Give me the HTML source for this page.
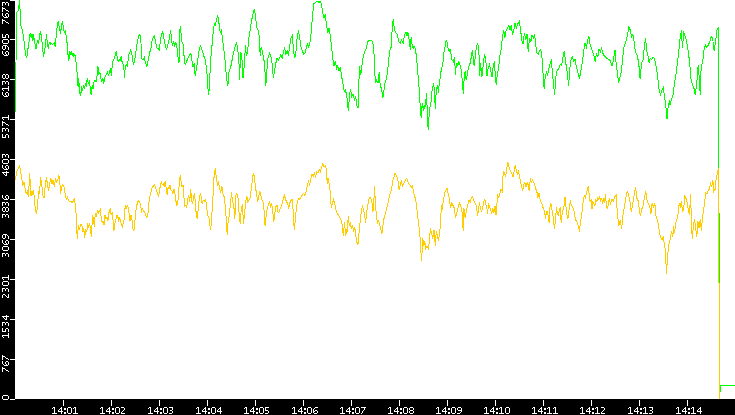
<!DOCTYPE html><html><head><meta charset="utf-8"><style>html,body{margin:0;padding:0;background:#fff;overflow:hidden}svg{display:block}</style></head><body>
<svg width="735" height="415" viewBox="0 0 735 415" shape-rendering="crispEdges">
<rect x="0" y="0" width="735" height="415" fill="#fff"/>
<polyline fill="none" stroke="#00ff00" stroke-width="1" points="15.5,112.0 16.5,13.0 16.5,13.1 17.3,11.5 18.1,11.1 18.9,6.6 19.4,0.0 20.2,11.5 20.6,24.6 21.4,27.9 22.2,29.5 23.0,34.4 23.8,39.3 24.7,47.5 25.5,54.1 26.3,57.4 27.1,55.7 27.9,49.2 28.8,44.3 29.6,36.1 30.4,32.8 31.2,37.7 32.0,34.4 32.9,41.0 33.7,34.4 34.5,42.6 35.3,44.3 36.1,49.2 37.0,42.6 37.8,41.0 38.6,42.6 39.4,37.7 40.2,31.1 41.0,34.4 41.9,41.0 42.7,49.2 43.5,57.4 44.3,52.5 45.1,47.5 46.0,39.3 46.5,34.4 47.6,45.9 48.4,47.5 49.2,42.6 50.1,44.3 50.9,42.6 52.5,44.3 54.2,42.6 55.3,46.7 56.3,34.4 57.4,24.6 58.3,21.3 59.1,26.2 59.9,31.1 60.7,32.8 61.5,24.6 62.4,21.3 63.2,26.2 64.0,31.1 64.8,32.8 65.6,31.1 66.5,39.3 67.3,44.3 68.1,55.7 68.9,60.7 69.7,50.8 70.6,54.1 71.4,52.5 72.2,55.7 72.9,52.8 73.9,56.6 74.8,53.7 75.8,60.5 76.7,66.2 77.3,77.8 78.1,87.4 78.7,77.8 79.6,93.2 80.6,96.1 81.6,87.4 82.5,89.4 83.5,86.5 84.5,88.4 85.4,83.6 86.4,85.5 87.3,77.8 88.3,83.6 89.3,81.7 90.2,87.4 91.2,95.1 92.2,85.5 93.1,89.4 94.1,81.7 95.0,79.7 96.0,81.7 97.0,75.9 97.9,66.2 98.9,73.9 99.9,72.0 100.8,77.8 101.8,81.7 102.8,77.8 103.7,83.6 104.7,77.8 105.6,75.9 106.6,73.9 107.6,72.0 108.5,75.9 109.5,72.0 110.5,68.2 111.4,75.9 112.4,62.4 113.4,60.5 114.3,58.5 115.3,54.7 116.2,51.8 117.2,56.6 118.2,61.4 119.1,59.5 120.1,60.5 121.1,56.6 122.0,61.4 123.0,64.3 123.9,68.2 124.5,77.8 125.3,66.2 126.3,64.3 127.2,66.2 127.8,62.4 128.8,54.7 130.6,50.3 131.9,54.2 133.4,65.1 134.5,60.7 135.6,54.2 136.7,45.6 137.8,40.1 138.8,35.8 139.9,34.3 141.0,43.4 141.7,58.6 143.2,59.7 144.3,57.5 145.4,62.9 146.9,66.2 148.6,58.6 149.7,52.1 150.8,49.9 151.9,41.2 152.9,38.0 154.5,35.8 155.5,41.2 156.6,47.7 158.4,48.8 159.5,49.9 160.5,39.0 161.6,34.7 162.7,31.5 163.8,38.0 164.9,43.4 166.6,49.9 168.1,43.4 169.2,39.0 170.7,30.4 171.4,39.0 172.5,45.6 173.6,41.2 174.6,46.6 175.7,42.3 176.8,46.6 177.9,56.4 179.0,62.9 179.6,32.5 180.5,26.0 181.6,41.2 182.7,43.4 183.5,45.6 184.4,62.9 185.5,64.0 186.6,61.8 187.7,58.6 188.7,56.4 190.9,53.1 192.0,60.7 193.1,67.2 194.2,62.9 195.2,75.9 196.3,69.4 197.4,62.9 198.5,54.2 199.6,47.7 200.7,45.6 201.8,49.9 202.8,52.1 203.9,56.4 205.0,58.6 206.1,65.1 207.2,75.9 208.0,88.5 208.8,94.9 209.6,80.9 210.6,60.7 211.8,48.0 213.1,32.8 214.4,22.7 215.1,25.3 216.4,20.2 217.7,15.1 218.9,22.7 220.2,32.8 221.5,30.3 222.7,40.4 224.0,50.6 225.3,63.2 226.5,78.4 227.8,86.0 229.1,70.8 230.3,68.3 231.6,63.2 232.8,55.6 234.1,50.6 235.4,45.5 236.6,43.0 237.9,50.6 239.2,65.8 239.7,79.7 240.4,53.1 241.7,54.4 243.0,78.4 244.2,65.8 245.5,45.5 246.3,55.6 247.5,53.1 248.8,37.9 250.1,30.3 251.3,22.7 252.6,15.1 254.4,8.8 255.6,17.7 256.9,27.8 258.2,30.3 259.4,37.9 260.2,55.6 261.2,46.8 262.7,53.1 264.5,63.2 265.8,86.0 266.5,75.9 267.8,58.2 269.6,53.1 270.8,55.6 272.1,63.2 273.4,78.4 274.5,70.9 275.8,63.3 277.1,58.2 278.3,60.8 279.6,58.2 280.9,54.4 282.1,58.2 283.4,51.9 284.7,48.1 285.9,54.4 287.2,50.6 288.5,55.7 289.7,45.6 291.0,38.0 292.3,35.4 293.5,50.6 294.8,58.2 296.1,50.6 297.3,35.4 298.6,31.6 299.8,38.0 301.1,48.1 302.4,50.6 303.6,54.4 304.9,53.2 306.2,48.1 307.4,44.3 308.7,46.8 310.0,41.8 311.2,32.9 312.5,15.2 313.8,3.8 315.5,2.5 317.6,1.3 318.8,2.5 320.1,1.3 321.4,3.8 322.6,12.7 323.9,17.7 325.2,15.2 326.4,24.1 327.7,32.9 329.0,27.8 330.2,35.4 331.5,45.6 332.8,58.2 334.0,65.8 335.3,60.8 336.6,68.4 337.8,65.8 339.1,70.9 340.4,67.1 341.4,74.8 342.8,83.1 344.2,91.4 345.5,90.0 346.9,97.0 348.3,110.8 349.7,94.2 350.5,88.6 351.6,97.0 353.0,94.2 354.4,99.7 355.8,97.0 356.6,105.3 358.0,108.0 358.8,85.9 359.4,66.5 360.8,74.8 362.2,63.7 363.5,55.4 364.9,51.2 366.3,48.5 367.7,41.6 369.1,40.2 371.0,40.2 372.7,41.6 373.8,48.5 374.6,69.3 375.5,83.1 376.6,80.3 378.0,83.1 379.3,72.0 380.2,85.9 381.6,88.6 382.9,98.3 383.8,91.4 384.9,83.1 386.3,78.9 387.6,72.0 388.5,60.9 389.9,49.9 391.2,47.1 392.1,30.5 393.2,19.4 394.6,30.5 396.0,33.2 397.3,34.6 398.7,41.6 400.4,42.9 401.5,40.2 403.2,42.9 404.3,36.0 405.9,31.9 407.0,36.0 407.9,31.9 408.2,35.9 408.9,38.1 409.6,43.2 410.4,49.7 411.1,37.4 411.8,43.2 412.5,45.3 413.2,48.9 414.0,46.0 414.7,46.8 415.4,50.4 416.1,54.0 416.9,62.0 417.6,67.8 418.1,76.3 419.0,87.1 419.9,101.6 420.8,114.2 421.2,117.9 421.8,107.0 422.7,103.4 423.2,110.6 424.1,105.2 424.8,108.8 425.7,101.6 426.6,93.5 427.2,110.6 427.7,125.1 428.3,129.6 428.8,119.7 429.3,112.4 430.3,105.2 431.2,101.6 431.7,92.5 432.6,87.1 433.5,84.4 434.4,88.9 435.3,108.8 435.9,96.2 436.6,88.9 437.5,85.3 438.4,92.5 439.3,83.5 440.2,78.1 441.1,70.8 442.0,67.2 442.9,63.6 443.4,57.6 444.1,51.1 445.2,46.0 446.2,40.3 447.0,41.7 447.7,45.3 448.4,50.4 449.1,48.9 449.9,51.8 450.6,50.4 451.3,56.2 452.0,59.8 452.8,60.5 453.5,62.7 454.2,57.6 454.9,60.5 455.2,74.5 456.1,67.2 457.0,63.6 457.9,65.4 458.8,61.8 459.7,63.6 460.6,67.2 461.5,70.8 462.4,83.5 463.3,93.5 464.2,78.1 465.2,70.8 466.1,79.9 467.0,76.3 467.9,70.8 468.8,67.2 469.7,63.6 470.1,63.4 470.8,60.5 471.6,53.3 472.3,50.4 473.0,56.2 473.7,63.4 474.5,66.3 475.1,58.2 476.3,48.0 477.6,43.0 478.9,50.6 479.6,75.9 480.6,63.2 481.9,77.2 483.2,65.8 484.4,54.4 485.7,58.2 487.0,75.9 488.2,68.3 489.5,64.5 490.8,70.8 492.0,77.2 493.3,65.8 494.6,60.7 495.3,78.4 496.3,84.7 497.3,73.4 498.6,68.3 499.9,55.6 501.1,49.3 502.4,37.9 503.7,30.3 504.9,37.9 506.2,30.3 507.5,27.8 508.7,25.3 510.0,30.3 511.3,25.3 512.5,35.4 513.8,30.3 515.1,22.7 516.3,27.8 517.6,24.0 519.4,21.5 520.6,30.3 521.9,40.4 523.2,44.2 524.4,32.8 525.7,40.4 527.0,34.1 528.2,51.8 529.5,37.9 530.8,41.7 532.0,35.4 533.3,37.9 534.6,34.1 535.8,45.5 537.1,53.1 538.4,54.4 539.5,50.6 540.8,49.3 542.1,58.2 543.3,78.4 544.1,88.5 545.1,78.4 546.4,72.1 547.6,75.9 548.9,68.3 550.2,63.2 551.4,60.7 552.7,75.9 554.0,88.5 554.7,94.9 555.5,80.9 556.5,72.1 557.8,69.6 559.0,68.3 560.3,64.5 561.6,65.8 562.8,58.2 564.3,50.6 565.4,60.7 566.6,68.3 567.4,73.4 568.6,86.0 569.9,68.3 571.2,58.2 572.4,56.9 573.7,60.7 575.0,59.4 576.2,65.8 577.5,70.8 579.5,78.4 581.3,68.3 582.6,60.7 583.8,50.6 585.1,43.0 586.4,46.8 587.6,40.4 588.9,36.6 590.2,45.5 591.4,48.0 592.7,51.8 594.0,55.6 595.2,62.0 596.5,53.1 597.8,56.9 599.0,49.3 600.3,51.8 601.6,48.0 602.8,53.1 604.1,55.6 605.4,56.9 606.9,58.5 609.8,59.9 612.1,65.7 613.5,59.9 615.0,49.8 616.1,62.8 617.6,74.4 618.5,83.0 619.9,77.3 621.3,71.5 622.8,57.0 624.2,45.5 625.7,42.6 627.1,36.8 628.9,26.7 630.6,31.0 631.5,36.8 632.9,33.9 634.3,42.6 635.2,51.2 637.2,55.6 638.7,62.8 640.1,78.7 641.6,62.8 643.0,59.9 644.5,45.5 645.6,38.2 646.8,51.2 647.9,55.6 649.1,62.8 650.2,58.5 651.7,59.9 653.1,57.0 654.6,58.5 656.0,65.7 657.5,74.4 658.9,88.8 660.4,94.6 661.8,90.3 663.2,87.4 664.7,97.5 666.1,109.0 667.0,119.2 668.2,106.2 669.9,100.4 669.9,105.4 671.4,99.6 672.8,96.7 674.2,85.1 675.7,76.5 677.1,64.9 678.6,53.4 680.0,38.9 681.5,30.2 682.3,47.6 683.8,33.1 685.2,36.0 686.7,41.8 688.1,50.5 689.6,62.0 691.0,79.4 692.5,85.1 693.9,88.0 695.3,95.3 696.8,82.3 698.2,64.9 699.1,76.5 700.3,95.3 701.1,67.8 702.6,62.0 704.0,50.5 705.5,44.7 706.9,47.6 708.4,44.7 709.8,41.8 711.2,36.0 712.7,38.9 714.1,50.5 715.6,41.8 717.0,30.2 718.2,27.9 718.5,28.0 719.5,389.0 719.5,398.0 720.5,385.5 736.0,385.5"/>
<polyline fill="none" stroke="#ffcc00" stroke-width="1" points="15.5,180.0 16.6,171.7 17.7,169.5 18.9,167.2 19.6,165.6 20.5,170.6 21.6,177.5 22.8,185.5 23.9,182.0 25.0,187.8 26.2,193.5 27.3,191.2 28.5,196.9 29.2,182.0 29.8,172.9 30.3,186.6 31.0,195.8 31.9,191.2 32.6,193.5 33.7,191.2 34.9,204.9 36.0,211.8 36.7,214.1 37.6,202.6 38.8,191.2 39.5,193.5 40.6,177.5 41.7,184.3 42.9,195.8 44.0,198.1 45.2,186.6 46.3,177.5 47.5,184.3 48.6,191.2 49.8,183.2 50.9,178.6 52.0,184.3 53.2,179.7 54.3,186.6 55.5,178.6 56.6,182.0 57.8,179.7 58.9,175.2 60.1,185.5 60.7,193.5 61.7,186.6 62.8,184.3 63.9,186.6 65.1,193.5 66.2,199.2 67.4,196.9 68.5,200.3 69.7,201.5 70.8,201.5 72.0,202.6 73.1,201.5 74.2,199.2 75.4,204.9 76.5,218.6 77.2,239.2 78.4,225.5 79.5,230.1 80.6,224.4 81.9,224.7 82.8,232.4 83.8,228.6 84.7,238.2 85.7,228.6 86.7,232.4 87.6,224.7 88.6,226.7 89.6,222.8 90.5,230.5 91.5,237.3 92.1,222.8 92.8,215.1 93.4,220.9 94.4,226.7 95.3,213.2 96.3,217.0 97.3,211.2 98.2,213.2 99.2,211.2 100.2,209.3 101.1,217.0 102.1,222.8 103.0,220.9 104.0,224.7 105.0,215.1 105.9,218.9 106.9,217.0 107.9,220.9 108.8,213.2 110.4,208.4 111.1,215.1 112.1,213.2 113.1,220.9 114.0,230.5 115.0,222.8 116.0,218.9 116.9,215.1 117.9,217.0 118.8,220.9 119.8,218.0 120.8,222.8 122.3,226.7 123.3,222.8 124.2,218.9 125.2,205.5 126.2,209.3 127.1,205.5 128.1,207.4 129.1,213.2 130.0,220.9 131.0,215.1 131.9,218.9 132.9,228.6 133.9,230.5 134.8,222.8 135.8,211.2 136.8,205.5 137.7,201.6 138.7,200.6 139.7,201.6 140.6,205.5 141.6,211.2 142.5,209.3 143.5,211.2 144.5,212.2 145.4,214.1 146.4,217.0 146.9,217.8 147.9,213.9 148.9,202.4 149.8,196.6 150.8,192.8 151.7,188.9 152.7,187.0 153.7,186.0 154.6,185.0 155.6,187.9 156.6,190.8 157.5,193.7 158.5,196.6 159.5,190.8 160.4,185.0 161.4,182.2 162.3,185.0 163.3,184.1 164.3,186.0 165.2,181.2 166.2,188.9 167.2,194.7 168.1,187.0 169.1,188.9 170.0,185.0 171.0,189.9 172.0,190.8 172.9,193.7 173.9,188.9 174.9,192.8 175.8,200.5 176.8,205.3 177.8,202.4 178.7,190.8 179.7,179.3 180.3,175.4 181.0,181.2 182.0,187.0 183.0,185.0 183.9,196.6 184.9,206.2 185.8,205.3 186.8,207.2 187.8,198.5 188.7,194.7 189.7,202.4 190.7,188.9 191.6,200.5 192.6,204.3 193.6,196.6 194.5,192.8 195.5,204.3 196.4,216.8 197.4,217.8 198.4,206.2 199.3,198.5 200.3,193.7 201.3,196.6 202.2,204.3 203.2,200.5 204.2,201.4 205.1,199.5 206.1,202.4 207.0,210.1 208.0,215.9 209.0,217.8 209.9,225.5 210.5,230.3 211.5,221.7 212.4,204.3 213.4,190.8 214.2,173.9 215.3,168.4 216.3,178.2 217.4,184.7 218.5,182.5 219.6,188.0 220.7,193.4 221.8,185.8 222.8,193.4 223.9,195.6 225.0,204.2 226.1,217.2 227.2,234.6 228.3,219.4 229.4,215.1 230.4,204.2 231.5,192.3 232.6,202.1 233.7,204.2 234.8,219.4 235.9,195.6 236.9,193.4 238.0,197.7 239.1,212.9 240.2,223.8 241.3,208.6 242.4,204.2 243.5,223.8 244.5,215.1 245.6,202.1 246.7,195.6 247.8,202.1 248.9,199.9 250.0,197.7 251.0,191.2 252.1,182.5 253.2,173.9 254.3,176.0 255.4,186.9 256.5,193.4 257.6,202.1 258.6,197.7 259.7,191.2 260.8,195.6 261.9,199.9 263.0,202.1 264.1,210.7 265.1,225.9 266.2,215.1 267.3,208.6 268.4,204.2 269.5,202.1 270.6,206.4 271.7,204.2 272.7,210.7 273.8,221.6 274.9,212.9 276.0,206.4 277.1,205.3 278.2,212.9 279.2,211.8 280.3,207.5 281.4,206.6 282.6,201.8 284.3,194.6 285.5,199.4 286.7,201.8 287.9,204.2 288.6,209.0 289.8,203.0 291.0,200.6 292.3,199.4 293.5,215.1 294.2,229.5 295.4,219.9 296.3,207.8 297.6,200.6 298.8,198.2 300.0,199.4 301.2,197.0 302.4,194.6 303.6,193.4 304.8,195.8 306.0,192.2 307.2,186.1 308.4,181.3 309.6,184.9 310.8,178.9 312.0,174.1 313.2,176.5 314.4,172.9 315.6,176.5 316.8,171.7 318.0,172.9 319.2,169.3 320.4,171.7 321.7,166.9 322.9,163.3 324.1,166.9 325.3,165.7 326.5,169.3 327.2,183.7 327.9,177.7 329.1,183.7 330.1,191.0 331.3,207.8 332.5,203.0 333.7,199.4 334.9,204.2 336.1,210.2 337.3,213.9 338.5,215.1 339.7,217.5 340.9,219.9 342.1,224.7 343.3,235.5 344.5,222.3 345.7,235.5 347.0,229.5 347.2,231.6 348.3,216.4 349.3,225.1 350.4,222.9 351.5,229.4 352.6,225.1 353.7,231.6 354.8,227.2 355.8,235.9 356.9,242.4 358.0,244.6 359.1,231.6 360.2,220.7 361.3,212.1 362.4,205.6 363.4,209.9 364.5,214.2 365.6,222.9 366.7,212.1 367.8,205.6 368.9,199.0 369.9,196.9 371.0,199.0 372.1,203.4 372.8,212.1 373.6,207.7 374.5,186.0 375.4,203.4 376.5,216.4 377.5,222.9 378.6,220.7 379.7,225.1 380.8,229.4 381.9,233.8 383.0,225.1 384.0,218.6 385.1,214.2 386.2,209.9 387.3,205.6 388.4,201.2 389.5,194.7 390.6,192.5 391.6,188.2 392.7,181.7 393.8,177.4 394.9,173.0 396.0,175.2 397.1,177.4 398.1,181.7 399.2,190.4 400.3,183.9 401.4,181.7 402.5,186.0 403.6,183.9 404.7,181.7 405.7,179.5 406.8,178.4 407.9,181.7 409.0,183.9 410.1,184.9 411.2,187.1 412.2,186.0 413.3,190.4 413.8,192.8 415.1,197.9 416.3,203.0 417.6,215.6 418.9,225.8 420.1,238.4 420.9,251.1 421.6,261.2 422.7,238.4 423.9,246.0 424.7,240.9 425.7,248.5 427.0,246.0 428.2,248.5 429.5,240.9 430.3,228.3 431.5,233.4 432.8,238.4 434.1,229.6 435.3,246.0 436.3,230.8 437.3,235.9 438.4,240.9 439.6,233.4 440.4,225.8 441.4,205.5 442.4,208.0 443.4,200.4 444.7,192.8 445.9,190.3 447.0,187.8 448.0,192.8 449.2,197.9 450.5,208.0 451.8,203.0 453.0,205.5 454.3,208.0 455.6,218.2 456.8,213.1 458.1,208.0 459.4,203.0 460.6,205.5 461.9,210.6 463.2,230.8 463.9,208.0 465.2,218.2 466.5,210.6 467.7,205.5 469.0,200.4 470.3,201.7 471.5,197.9 472.5,196.6 473.8,200.4 475.1,203.0 476.3,205.5 477.6,215.6 478.9,208.0 479.3,202.1 480.4,208.6 481.5,210.7 482.6,208.6 483.7,202.1 484.8,198.8 485.8,204.2 486.9,208.6 487.6,214.0 488.4,204.2 489.5,206.4 490.6,209.7 491.7,212.9 492.8,208.6 493.9,212.9 495.0,206.4 496.0,215.1 496.7,206.4 497.8,195.6 498.9,197.7 499.9,193.4 501.0,189.0 502.1,191.2 502.8,178.2 503.6,170.6 504.7,173.9 505.8,176.0 506.9,167.4 507.8,161.9 508.6,165.2 509.7,169.5 510.8,171.7 511.9,173.9 513.0,177.1 514.0,171.7 515.1,165.2 516.2,169.5 517.3,173.9 518.4,171.7 519.5,176.0 520.6,182.5 521.6,186.9 522.7,190.1 523.8,184.7 524.9,182.5 526.0,186.9 527.1,182.5 528.1,184.7 529.2,191.2 530.3,178.2 531.4,182.5 532.5,180.4 533.6,182.5 534.7,184.7 535.7,189.0 536.8,191.2 537.9,197.7 539.0,193.4 540.1,199.9 541.2,202.1 542.2,204.2 543.3,208.6 543.9,209.3 544.8,213.2 545.4,218.9 546.2,213.2 547.1,211.2 548.1,215.1 549.1,222.8 550.0,207.4 551.0,203.5 551.9,209.3 552.9,215.1 553.9,224.7 554.5,228.6 555.4,220.9 556.4,207.4 557.3,213.2 558.3,215.1 559.3,211.2 560.2,207.4 561.2,222.8 562.2,213.2 563.1,209.3 564.1,205.5 565.0,196.8 566.0,207.4 567.0,215.1 567.9,218.9 568.9,211.2 569.9,203.5 570.4,201.6 571.4,205.5 572.8,207.4 573.7,209.3 574.7,215.1 575.6,220.9 576.6,220.9 577.6,222.8 578.5,226.7 579.5,231.5 580.5,220.9 581.4,217.0 582.4,209.3 583.4,199.7 584.3,195.8 585.3,197.8 586.2,193.9 587.2,190.0 588.2,186.2 589.1,193.9 590.1,201.6 591.1,199.7 592.0,209.3 593.0,201.6 593.9,203.5 594.9,205.5 595.9,199.7 596.8,201.6 597.8,197.8 598.8,199.7 599.7,195.8 600.7,201.6 601.7,197.8 602.6,203.5 603.6,199.7 604.5,201.6 605.5,193.9 606.5,207.4 607.4,208.4 608.4,204.5 609.2,198.2 610.5,203.8 611.9,199.6 613.3,201.0 614.7,196.9 616.1,195.5 617.5,214.9 618.9,225.9 620.2,220.4 621.6,228.7 623.0,214.9 624.4,206.6 625.8,198.2 627.2,191.3 628.5,194.1 629.9,201.0 631.3,212.1 632.7,203.8 634.1,195.5 635.5,187.2 636.9,198.2 638.2,201.0 639.6,212.1 640.5,216.2 641.6,209.3 643.0,206.6 644.3,198.2 645.7,191.3 647.1,201.0 648.5,203.8 649.9,207.9 651.0,213.5 652.1,203.8 653.5,206.6 654.9,203.8 656.2,217.6 657.6,220.4 659.0,228.7 660.4,237.0 661.8,239.8 663.2,237.0 664.6,245.3 665.4,250.9 666.5,274.4 667.3,259.2 668.7,245.3 670.1,239.8 671.5,231.5 672.9,237.0 673.4,225.9 674.6,232.8 675.7,223.6 676.9,219.1 678.0,214.5 679.2,203.1 680.3,207.6 681.4,200.8 682.6,212.2 683.7,207.6 684.9,196.2 686.0,198.5 687.2,203.1 688.3,209.9 689.5,214.5 690.6,193.9 691.7,230.5 692.4,238.5 693.3,225.9 694.5,219.1 695.6,228.2 696.8,237.4 697.9,221.4 699.1,228.2 700.2,219.1 701.4,230.5 702.5,216.8 703.6,209.9 704.8,200.8 705.9,192.8 707.1,193.9 708.2,190.5 709.4,189.3 710.5,182.5 711.6,187.0 712.8,180.2 713.9,191.6 715.1,189.3 716.2,177.9 717.4,173.3 718.1,169.9 718.5,168.0 719.5,396.0 719.5,400.0"/>
<rect x="0" y="0" width="15" height="415" fill="#000"/>
<rect x="0" y="399" width="735" height="16" fill="#000"/>
<path fill="#fff" d="M10 0h5v1h-5zM2 2h3v1h-3zM6 2h2v1h-2zM2 3h1v1h-1zM5 3h1v1h-1zM8 3h1v1h-1zM2 4h1v1h-1zM5 4h1v1h-1zM8 4h1v1h-1zM2 5h1v1h-1zM8 5h1v1h-1zM2 7h1v1h-1zM2 8h3v1h-3zM2 9h1v1h-1zM5 9h1v1h-1zM2 10h1v1h-1zM6 10h2v1h-2zM2 11h1v1h-1zM8 11h1v1h-1zM2 13h1v1h-1zM6 13h2v1h-2zM2 14h1v1h-1zM5 14h1v1h-1zM8 14h1v1h-1zM2 15h1v1h-1zM5 15h1v1h-1zM8 15h1v1h-1zM3 16h1v1h-1zM6 16h1v1h-1zM8 16h1v1h-1zM4 17h4v1h-4zM2 19h1v1h-1zM2 20h3v1h-3zM2 21h1v1h-1zM5 21h1v1h-1zM2 22h1v1h-1zM6 22h2v1h-2zM2 23h1v1h-1zM8 23h1v1h-1zM2 34h1v1h-1zM6 34h2v1h-2zM2 35h1v1h-1zM5 35h1v1h-1zM8 35h1v1h-1zM2 36h1v1h-1zM5 36h1v1h-1zM8 36h1v1h-1zM2 37h4v1h-4zM8 37h1v1h-1zM3 39h5v1h-5zM10 39h5v1h-5zM2 40h1v1h-1zM8 40h1v1h-1zM2 41h1v1h-1zM8 41h1v1h-1zM2 42h1v1h-1zM8 42h1v1h-1zM3 43h5v1h-5zM3 45h4v1h-4zM2 46h1v1h-1zM5 46h1v1h-1zM7 46h1v1h-1zM2 47h1v1h-1zM5 47h1v1h-1zM8 47h1v1h-1zM2 48h1v1h-1zM5 48h1v1h-1zM8 48h1v1h-1zM3 49h2v1h-2zM8 49h1v1h-1zM2 51h1v1h-1zM6 51h2v1h-2zM2 52h1v1h-1zM5 52h1v1h-1zM8 52h1v1h-1zM2 53h1v1h-1zM5 53h1v1h-1zM8 53h1v1h-1zM3 54h1v1h-1zM6 54h1v1h-1zM8 54h1v1h-1zM4 55h4v1h-4zM3 74h2v1h-2zM6 74h2v1h-2zM2 75h1v1h-1zM5 75h1v1h-1zM8 75h1v1h-1zM2 76h1v1h-1zM5 76h1v1h-1zM8 76h1v1h-1zM2 77h1v1h-1zM5 77h1v1h-1zM8 77h1v1h-1zM3 78h2v1h-2zM6 78h2v1h-2zM10 79h5v1h-5zM2 81h3v1h-3zM6 81h2v1h-2zM2 82h1v1h-1zM5 82h1v1h-1zM8 82h1v1h-1zM2 83h1v1h-1zM5 83h1v1h-1zM8 83h1v1h-1zM2 84h1v1h-1zM8 84h1v1h-1zM8 86h1v1h-1zM8 87h1v1h-1zM2 88h7v1h-7zM2 89h1v1h-1zM8 89h1v1h-1zM3 90h1v1h-1zM8 90h1v1h-1zM2 92h1v1h-1zM6 92h2v1h-2zM2 93h1v1h-1zM5 93h1v1h-1zM8 93h1v1h-1zM2 94h1v1h-1zM5 94h1v1h-1zM8 94h1v1h-1zM3 95h1v1h-1zM6 95h1v1h-1zM8 95h1v1h-1zM4 96h4v1h-4zM8 115h1v1h-1zM8 116h1v1h-1zM2 117h7v1h-7zM2 118h1v1h-1zM8 118h1v1h-1zM3 119h1v1h-1zM8 119h1v1h-1zM10 119h5v1h-5zM2 121h1v1h-1zM2 122h3v1h-3zM2 123h1v1h-1zM5 123h1v1h-1zM2 124h1v1h-1zM6 124h2v1h-2zM2 125h1v1h-1zM8 125h1v1h-1zM2 128h3v1h-3zM6 128h2v1h-2zM2 129h1v1h-1zM5 129h1v1h-1zM8 129h1v1h-1zM2 130h1v1h-1zM5 130h1v1h-1zM8 130h1v1h-1zM2 131h1v1h-1zM8 131h1v1h-1zM2 134h1v1h-1zM6 134h2v1h-2zM2 135h1v1h-1zM5 135h1v1h-1zM8 135h1v1h-1zM2 136h1v1h-1zM5 136h1v1h-1zM8 136h1v1h-1zM2 137h4v1h-4zM8 137h1v1h-1zM2 154h3v1h-3zM6 154h2v1h-2zM2 155h1v1h-1zM5 155h1v1h-1zM8 155h1v1h-1zM2 156h1v1h-1zM5 156h1v1h-1zM8 156h1v1h-1zM2 157h1v1h-1zM8 157h1v1h-1zM3 159h5v1h-5zM10 159h5v1h-5zM2 160h1v1h-1zM8 160h1v1h-1zM2 161h1v1h-1zM8 161h1v1h-1zM2 162h1v1h-1zM8 162h1v1h-1zM3 163h5v1h-5zM2 165h1v1h-1zM6 165h2v1h-2zM2 166h1v1h-1zM5 166h1v1h-1zM8 166h1v1h-1zM2 167h1v1h-1zM5 167h1v1h-1zM8 167h1v1h-1zM3 168h1v1h-1zM6 168h1v1h-1zM8 168h1v1h-1zM4 169h4v1h-4zM6 171h1v1h-1zM2 172h7v1h-7zM3 173h1v1h-1zM6 173h1v1h-1zM4 174h1v1h-1zM6 174h1v1h-1zM5 175h2v1h-2zM2 195h1v1h-1zM6 195h2v1h-2zM2 196h1v1h-1zM5 196h1v1h-1zM8 196h1v1h-1zM2 197h1v1h-1zM5 197h1v1h-1zM8 197h1v1h-1zM3 198h1v1h-1zM6 198h1v1h-1zM8 198h1v1h-1zM4 199h4v1h-4zM10 199h5v1h-5zM2 202h3v1h-3zM6 202h2v1h-2zM2 203h1v1h-1zM5 203h1v1h-1zM8 203h1v1h-1zM2 204h1v1h-1zM5 204h1v1h-1zM8 204h1v1h-1zM2 205h1v1h-1zM8 205h1v1h-1zM3 207h2v1h-2zM6 207h2v1h-2zM2 208h1v1h-1zM5 208h1v1h-1zM8 208h1v1h-1zM2 209h1v1h-1zM5 209h1v1h-1zM8 209h1v1h-1zM2 210h1v1h-1zM5 210h1v1h-1zM8 210h1v1h-1zM3 211h2v1h-2zM6 211h2v1h-2zM2 214h3v1h-3zM6 214h2v1h-2zM2 215h1v1h-1zM5 215h1v1h-1zM8 215h1v1h-1zM2 216h1v1h-1zM5 216h1v1h-1zM8 216h1v1h-1zM2 217h1v1h-1zM8 217h1v1h-1zM3 234h4v1h-4zM2 235h1v1h-1zM5 235h1v1h-1zM7 235h1v1h-1zM2 236h1v1h-1zM5 236h1v1h-1zM8 236h1v1h-1zM2 237h1v1h-1zM5 237h1v1h-1zM8 237h1v1h-1zM3 238h2v1h-2zM8 238h1v1h-1zM10 239h5v1h-5zM2 240h1v1h-1zM6 240h2v1h-2zM2 241h1v1h-1zM5 241h1v1h-1zM8 241h1v1h-1zM2 242h1v1h-1zM5 242h1v1h-1zM8 242h1v1h-1zM3 243h1v1h-1zM6 243h1v1h-1zM8 243h1v1h-1zM4 244h4v1h-4zM3 246h5v1h-5zM2 247h1v1h-1zM8 247h1v1h-1zM2 248h1v1h-1zM8 248h1v1h-1zM2 249h1v1h-1zM8 249h1v1h-1zM3 250h5v1h-5zM2 253h3v1h-3zM6 253h2v1h-2zM2 254h1v1h-1zM5 254h1v1h-1zM8 254h1v1h-1zM2 255h1v1h-1zM5 255h1v1h-1zM8 255h1v1h-1zM2 256h1v1h-1zM8 256h1v1h-1zM8 275h1v1h-1zM8 276h1v1h-1zM2 277h7v1h-7zM2 278h1v1h-1zM8 278h1v1h-1zM3 279h1v1h-1zM8 279h1v1h-1zM10 279h5v1h-5zM3 281h5v1h-5zM2 282h1v1h-1zM8 282h1v1h-1zM2 283h1v1h-1zM8 283h1v1h-1zM2 284h1v1h-1zM8 284h1v1h-1zM3 285h5v1h-5zM2 288h3v1h-3zM6 288h2v1h-2zM2 289h1v1h-1zM5 289h1v1h-1zM8 289h1v1h-1zM2 290h1v1h-1zM5 290h1v1h-1zM8 290h1v1h-1zM2 291h1v1h-1zM8 291h1v1h-1zM3 294h2v1h-2zM8 294h1v1h-1zM2 295h1v1h-1zM5 295h1v1h-1zM8 295h1v1h-1zM2 296h1v1h-1zM6 296h1v1h-1zM8 296h1v1h-1zM2 297h1v1h-1zM7 297h2v1h-2zM6 315h1v1h-1zM2 316h7v1h-7zM3 317h1v1h-1zM6 317h1v1h-1zM4 318h1v1h-1zM6 318h1v1h-1zM5 319h2v1h-2zM10 319h5v1h-5zM2 322h3v1h-3zM6 322h2v1h-2zM2 323h1v1h-1zM5 323h1v1h-1zM8 323h1v1h-1zM2 324h1v1h-1zM5 324h1v1h-1zM8 324h1v1h-1zM2 325h1v1h-1zM8 325h1v1h-1zM2 328h1v1h-1zM6 328h2v1h-2zM2 329h1v1h-1zM5 329h1v1h-1zM8 329h1v1h-1zM2 330h1v1h-1zM5 330h1v1h-1zM8 330h1v1h-1zM2 331h4v1h-4zM8 331h1v1h-1zM8 333h1v1h-1zM8 334h1v1h-1zM2 335h7v1h-7zM2 336h1v1h-1zM8 336h1v1h-1zM3 337h1v1h-1zM8 337h1v1h-1zM2 355h1v1h-1zM2 356h3v1h-3zM2 357h1v1h-1zM5 357h1v1h-1zM2 358h1v1h-1zM6 358h2v1h-2zM2 359h1v1h-1zM8 359h1v1h-1zM10 359h5v1h-5zM2 361h1v1h-1zM6 361h2v1h-2zM2 362h1v1h-1zM5 362h1v1h-1zM8 362h1v1h-1zM2 363h1v1h-1zM5 363h1v1h-1zM8 363h1v1h-1zM3 364h1v1h-1zM6 364h1v1h-1zM8 364h1v1h-1zM4 365h4v1h-4zM2 367h1v1h-1zM2 368h3v1h-3zM2 369h1v1h-1zM5 369h1v1h-1zM2 370h1v1h-1zM6 370h2v1h-2zM2 371h1v1h-1zM8 371h1v1h-1zM3 395h5v1h-5zM2 396h1v1h-1zM8 396h1v1h-1zM2 397h1v1h-1zM8 397h1v1h-1zM2 398h1v1h-1zM8 398h1v1h-1zM3 399h5v1h-5zM10 399h5v1h-5zM63 400h1v1h-1zM111 400h1v1h-1zM159 400h1v1h-1zM207 400h1v1h-1zM255 400h1v1h-1zM303 400h1v1h-1zM351 400h1v1h-1zM399 400h1v1h-1zM447 400h1v1h-1zM495 400h1v1h-1zM543 400h1v1h-1zM591 400h1v1h-1zM639 400h1v1h-1zM687 400h1v1h-1zM63 401h1v1h-1zM111 401h1v1h-1zM159 401h1v1h-1zM207 401h1v1h-1zM255 401h1v1h-1zM303 401h1v1h-1zM351 401h1v1h-1zM399 401h1v1h-1zM447 401h1v1h-1zM495 401h1v1h-1zM543 401h1v1h-1zM591 401h1v1h-1zM639 401h1v1h-1zM687 401h1v1h-1zM63 402h1v1h-1zM111 402h1v1h-1zM159 402h1v1h-1zM207 402h1v1h-1zM255 402h1v1h-1zM303 402h1v1h-1zM351 402h1v1h-1zM399 402h1v1h-1zM447 402h1v1h-1zM495 402h1v1h-1zM543 402h1v1h-1zM591 402h1v1h-1zM639 402h1v1h-1zM687 402h1v1h-1zM63 403h1v1h-1zM111 403h1v1h-1zM159 403h1v1h-1zM207 403h1v1h-1zM255 403h1v1h-1zM303 403h1v1h-1zM351 403h1v1h-1zM399 403h1v1h-1zM447 403h1v1h-1zM495 403h1v1h-1zM543 403h1v1h-1zM591 403h1v1h-1zM639 403h1v1h-1zM687 403h1v1h-1zM63 404h1v1h-1zM111 404h1v1h-1zM159 404h1v1h-1zM207 404h1v1h-1zM255 404h1v1h-1zM303 404h1v1h-1zM351 404h1v1h-1zM399 404h1v1h-1zM447 404h1v1h-1zM495 404h1v1h-1zM543 404h1v1h-1zM591 404h1v1h-1zM639 404h1v1h-1zM687 404h1v1h-1zM63 405h1v1h-1zM111 405h1v1h-1zM159 405h1v1h-1zM207 405h1v1h-1zM255 405h1v1h-1zM303 405h1v1h-1zM351 405h1v1h-1zM399 405h1v1h-1zM447 405h1v1h-1zM495 405h1v1h-1zM543 405h1v1h-1zM591 405h1v1h-1zM639 405h1v1h-1zM687 405h1v1h-1zM53 407h2v1h-2zM61 407h1v1h-1zM68 407h3v1h-3zM74 407h2v1h-2zM101 407h2v1h-2zM109 407h1v1h-1zM116 407h3v1h-3zM121 407h3v1h-3zM149 407h2v1h-2zM157 407h1v1h-1zM164 407h3v1h-3zM169 407h4v1h-4zM197 407h2v1h-2zM205 407h1v1h-1zM212 407h3v1h-3zM220 407h1v1h-1zM245 407h2v1h-2zM253 407h1v1h-1zM260 407h3v1h-3zM265 407h4v1h-4zM293 407h2v1h-2zM301 407h1v1h-1zM308 407h3v1h-3zM315 407h3v1h-3zM341 407h2v1h-2zM349 407h1v1h-1zM356 407h3v1h-3zM361 407h5v1h-5zM389 407h2v1h-2zM397 407h1v1h-1zM404 407h3v1h-3zM410 407h3v1h-3zM437 407h2v1h-2zM445 407h1v1h-1zM452 407h3v1h-3zM458 407h3v1h-3zM485 407h2v1h-2zM493 407h1v1h-1zM500 407h2v1h-2zM506 407h3v1h-3zM533 407h2v1h-2zM541 407h1v1h-1zM548 407h2v1h-2zM554 407h2v1h-2zM581 407h2v1h-2zM589 407h1v1h-1zM596 407h2v1h-2zM601 407h3v1h-3zM629 407h2v1h-2zM637 407h1v1h-1zM644 407h2v1h-2zM649 407h4v1h-4zM677 407h2v1h-2zM685 407h1v1h-1zM692 407h2v1h-2zM700 407h1v1h-1zM52 408h1v1h-1zM54 408h1v1h-1zM60 408h2v1h-2zM64 408h2v1h-2zM67 408h1v1h-1zM71 408h1v1h-1zM73 408h1v1h-1zM75 408h1v1h-1zM100 408h1v1h-1zM102 408h1v1h-1zM108 408h2v1h-2zM112 408h2v1h-2zM115 408h1v1h-1zM119 408h1v1h-1zM124 408h1v1h-1zM148 408h1v1h-1zM150 408h1v1h-1zM156 408h2v1h-2zM160 408h2v1h-2zM163 408h1v1h-1zM167 408h1v1h-1zM172 408h1v1h-1zM196 408h1v1h-1zM198 408h1v1h-1zM204 408h2v1h-2zM208 408h2v1h-2zM211 408h1v1h-1zM215 408h1v1h-1zM219 408h2v1h-2zM244 408h1v1h-1zM246 408h1v1h-1zM252 408h2v1h-2zM256 408h2v1h-2zM259 408h1v1h-1zM263 408h1v1h-1zM265 408h1v1h-1zM292 408h1v1h-1zM294 408h1v1h-1zM300 408h2v1h-2zM304 408h2v1h-2zM307 408h1v1h-1zM311 408h1v1h-1zM314 408h1v1h-1zM340 408h1v1h-1zM342 408h1v1h-1zM348 408h2v1h-2zM352 408h2v1h-2zM355 408h1v1h-1zM359 408h1v1h-1zM364 408h1v1h-1zM388 408h1v1h-1zM390 408h1v1h-1zM396 408h2v1h-2zM400 408h2v1h-2zM403 408h1v1h-1zM407 408h1v1h-1zM409 408h1v1h-1zM413 408h1v1h-1zM436 408h1v1h-1zM438 408h1v1h-1zM444 408h2v1h-2zM448 408h2v1h-2zM451 408h1v1h-1zM455 408h1v1h-1zM457 408h1v1h-1zM461 408h1v1h-1zM484 408h1v1h-1zM486 408h1v1h-1zM492 408h2v1h-2zM496 408h2v1h-2zM499 408h1v1h-1zM501 408h1v1h-1zM505 408h1v1h-1zM509 408h1v1h-1zM532 408h1v1h-1zM534 408h1v1h-1zM540 408h2v1h-2zM544 408h2v1h-2zM547 408h1v1h-1zM549 408h1v1h-1zM553 408h1v1h-1zM555 408h1v1h-1zM580 408h1v1h-1zM582 408h1v1h-1zM588 408h2v1h-2zM592 408h2v1h-2zM595 408h1v1h-1zM597 408h1v1h-1zM604 408h1v1h-1zM628 408h1v1h-1zM630 408h1v1h-1zM636 408h2v1h-2zM640 408h2v1h-2zM643 408h1v1h-1zM645 408h1v1h-1zM652 408h1v1h-1zM676 408h1v1h-1zM678 408h1v1h-1zM684 408h2v1h-2zM688 408h2v1h-2zM691 408h1v1h-1zM693 408h1v1h-1zM699 408h2v1h-2zM54 409h1v1h-1zM59 409h1v1h-1zM61 409h1v1h-1zM64 409h2v1h-2zM67 409h1v1h-1zM71 409h1v1h-1zM75 409h1v1h-1zM102 409h1v1h-1zM107 409h1v1h-1zM109 409h1v1h-1zM112 409h2v1h-2zM115 409h1v1h-1zM119 409h1v1h-1zM124 409h1v1h-1zM150 409h1v1h-1zM155 409h1v1h-1zM157 409h1v1h-1zM160 409h2v1h-2zM163 409h1v1h-1zM167 409h1v1h-1zM172 409h1v1h-1zM198 409h1v1h-1zM203 409h1v1h-1zM205 409h1v1h-1zM208 409h2v1h-2zM211 409h1v1h-1zM215 409h1v1h-1zM218 409h1v1h-1zM220 409h1v1h-1zM246 409h1v1h-1zM251 409h1v1h-1zM253 409h1v1h-1zM256 409h2v1h-2zM259 409h1v1h-1zM263 409h1v1h-1zM265 409h1v1h-1zM294 409h1v1h-1zM299 409h1v1h-1zM301 409h1v1h-1zM304 409h2v1h-2zM307 409h1v1h-1zM311 409h1v1h-1zM313 409h1v1h-1zM342 409h1v1h-1zM347 409h1v1h-1zM349 409h1v1h-1zM352 409h2v1h-2zM355 409h1v1h-1zM359 409h1v1h-1zM364 409h1v1h-1zM390 409h1v1h-1zM395 409h1v1h-1zM397 409h1v1h-1zM400 409h2v1h-2zM403 409h1v1h-1zM407 409h1v1h-1zM409 409h1v1h-1zM413 409h1v1h-1zM438 409h1v1h-1zM443 409h1v1h-1zM445 409h1v1h-1zM448 409h2v1h-2zM451 409h1v1h-1zM455 409h1v1h-1zM457 409h1v1h-1zM461 409h1v1h-1zM486 409h1v1h-1zM491 409h1v1h-1zM493 409h1v1h-1zM496 409h2v1h-2zM501 409h1v1h-1zM505 409h1v1h-1zM509 409h1v1h-1zM534 409h1v1h-1zM539 409h1v1h-1zM541 409h1v1h-1zM544 409h2v1h-2zM549 409h1v1h-1zM555 409h1v1h-1zM582 409h1v1h-1zM587 409h1v1h-1zM589 409h1v1h-1zM592 409h2v1h-2zM597 409h1v1h-1zM604 409h1v1h-1zM630 409h1v1h-1zM635 409h1v1h-1zM637 409h1v1h-1zM640 409h2v1h-2zM645 409h1v1h-1zM652 409h1v1h-1zM678 409h1v1h-1zM683 409h1v1h-1zM685 409h1v1h-1zM688 409h2v1h-2zM693 409h1v1h-1zM698 409h1v1h-1zM700 409h1v1h-1zM54 410h1v1h-1zM58 410h1v1h-1zM61 410h1v1h-1zM67 410h1v1h-1zM71 410h1v1h-1zM75 410h1v1h-1zM102 410h1v1h-1zM106 410h1v1h-1zM109 410h1v1h-1zM115 410h1v1h-1zM119 410h1v1h-1zM123 410h1v1h-1zM150 410h1v1h-1zM154 410h1v1h-1zM157 410h1v1h-1zM163 410h1v1h-1zM167 410h1v1h-1zM170 410h2v1h-2zM198 410h1v1h-1zM202 410h1v1h-1zM205 410h1v1h-1zM211 410h1v1h-1zM215 410h1v1h-1zM217 410h1v1h-1zM220 410h1v1h-1zM246 410h1v1h-1zM250 410h1v1h-1zM253 410h1v1h-1zM259 410h1v1h-1zM263 410h1v1h-1zM265 410h3v1h-3zM294 410h1v1h-1zM298 410h1v1h-1zM301 410h1v1h-1zM307 410h1v1h-1zM311 410h1v1h-1zM313 410h1v1h-1zM315 410h2v1h-2zM342 410h1v1h-1zM346 410h1v1h-1zM349 410h1v1h-1zM355 410h1v1h-1zM359 410h1v1h-1zM363 410h1v1h-1zM390 410h1v1h-1zM394 410h1v1h-1zM397 410h1v1h-1zM403 410h1v1h-1zM407 410h1v1h-1zM410 410h3v1h-3zM438 410h1v1h-1zM442 410h1v1h-1zM445 410h1v1h-1zM451 410h1v1h-1zM455 410h1v1h-1zM458 410h4v1h-4zM486 410h1v1h-1zM490 410h1v1h-1zM493 410h1v1h-1zM501 410h1v1h-1zM505 410h1v1h-1zM509 410h1v1h-1zM534 410h1v1h-1zM538 410h1v1h-1zM541 410h1v1h-1zM549 410h1v1h-1zM555 410h1v1h-1zM582 410h1v1h-1zM586 410h1v1h-1zM589 410h1v1h-1zM597 410h1v1h-1zM603 410h1v1h-1zM630 410h1v1h-1zM634 410h1v1h-1zM637 410h1v1h-1zM645 410h1v1h-1zM650 410h2v1h-2zM678 410h1v1h-1zM682 410h1v1h-1zM685 410h1v1h-1zM693 410h1v1h-1zM697 410h1v1h-1zM700 410h1v1h-1zM54 411h1v1h-1zM58 411h5v1h-5zM67 411h1v1h-1zM71 411h1v1h-1zM75 411h1v1h-1zM102 411h1v1h-1zM106 411h5v1h-5zM115 411h1v1h-1zM119 411h1v1h-1zM122 411h1v1h-1zM150 411h1v1h-1zM154 411h5v1h-5zM163 411h1v1h-1zM167 411h1v1h-1zM172 411h1v1h-1zM198 411h1v1h-1zM202 411h5v1h-5zM211 411h1v1h-1zM215 411h1v1h-1zM217 411h5v1h-5zM246 411h1v1h-1zM250 411h5v1h-5zM259 411h1v1h-1zM263 411h1v1h-1zM268 411h1v1h-1zM294 411h1v1h-1zM298 411h5v1h-5zM307 411h1v1h-1zM311 411h1v1h-1zM313 411h2v1h-2zM317 411h1v1h-1zM342 411h1v1h-1zM346 411h5v1h-5zM355 411h1v1h-1zM359 411h1v1h-1zM362 411h1v1h-1zM390 411h1v1h-1zM394 411h5v1h-5zM403 411h1v1h-1zM407 411h1v1h-1zM409 411h1v1h-1zM413 411h1v1h-1zM438 411h1v1h-1zM442 411h5v1h-5zM451 411h1v1h-1zM455 411h1v1h-1zM461 411h1v1h-1zM486 411h1v1h-1zM490 411h5v1h-5zM501 411h1v1h-1zM505 411h1v1h-1zM509 411h1v1h-1zM534 411h1v1h-1zM538 411h5v1h-5zM549 411h1v1h-1zM555 411h1v1h-1zM582 411h1v1h-1zM586 411h5v1h-5zM597 411h1v1h-1zM602 411h1v1h-1zM630 411h1v1h-1zM634 411h5v1h-5zM645 411h1v1h-1zM652 411h1v1h-1zM678 411h1v1h-1zM682 411h5v1h-5zM693 411h1v1h-1zM697 411h5v1h-5zM54 412h1v1h-1zM61 412h1v1h-1zM64 412h2v1h-2zM67 412h1v1h-1zM71 412h1v1h-1zM75 412h1v1h-1zM102 412h1v1h-1zM109 412h1v1h-1zM112 412h2v1h-2zM115 412h1v1h-1zM119 412h1v1h-1zM121 412h1v1h-1zM150 412h1v1h-1zM157 412h1v1h-1zM160 412h2v1h-2zM163 412h1v1h-1zM167 412h1v1h-1zM172 412h1v1h-1zM198 412h1v1h-1zM205 412h1v1h-1zM208 412h2v1h-2zM211 412h1v1h-1zM215 412h1v1h-1zM220 412h1v1h-1zM246 412h1v1h-1zM253 412h1v1h-1zM256 412h2v1h-2zM259 412h1v1h-1zM263 412h1v1h-1zM268 412h1v1h-1zM294 412h1v1h-1zM301 412h1v1h-1zM304 412h2v1h-2zM307 412h1v1h-1zM311 412h1v1h-1zM313 412h1v1h-1zM317 412h1v1h-1zM342 412h1v1h-1zM349 412h1v1h-1zM352 412h2v1h-2zM355 412h1v1h-1zM359 412h1v1h-1zM362 412h1v1h-1zM390 412h1v1h-1zM397 412h1v1h-1zM400 412h2v1h-2zM403 412h1v1h-1zM407 412h1v1h-1zM409 412h1v1h-1zM413 412h1v1h-1zM438 412h1v1h-1zM445 412h1v1h-1zM448 412h2v1h-2zM451 412h1v1h-1zM455 412h1v1h-1zM460 412h1v1h-1zM486 412h1v1h-1zM493 412h1v1h-1zM496 412h2v1h-2zM501 412h1v1h-1zM505 412h1v1h-1zM509 412h1v1h-1zM534 412h1v1h-1zM541 412h1v1h-1zM544 412h2v1h-2zM549 412h1v1h-1zM555 412h1v1h-1zM582 412h1v1h-1zM589 412h1v1h-1zM592 412h2v1h-2zM597 412h1v1h-1zM601 412h1v1h-1zM630 412h1v1h-1zM637 412h1v1h-1zM640 412h2v1h-2zM645 412h1v1h-1zM652 412h1v1h-1zM678 412h1v1h-1zM685 412h1v1h-1zM688 412h2v1h-2zM693 412h1v1h-1zM700 412h1v1h-1zM52 413h5v1h-5zM61 413h1v1h-1zM64 413h2v1h-2zM68 413h3v1h-3zM73 413h5v1h-5zM100 413h5v1h-5zM109 413h1v1h-1zM112 413h2v1h-2zM116 413h3v1h-3zM121 413h4v1h-4zM148 413h5v1h-5zM157 413h1v1h-1zM160 413h2v1h-2zM164 413h3v1h-3zM169 413h3v1h-3zM196 413h5v1h-5zM205 413h1v1h-1zM208 413h2v1h-2zM212 413h3v1h-3zM220 413h1v1h-1zM244 413h5v1h-5zM253 413h1v1h-1zM256 413h2v1h-2zM260 413h3v1h-3zM265 413h3v1h-3zM292 413h5v1h-5zM301 413h1v1h-1zM304 413h2v1h-2zM308 413h3v1h-3zM314 413h3v1h-3zM340 413h5v1h-5zM349 413h1v1h-1zM352 413h2v1h-2zM356 413h3v1h-3zM361 413h1v1h-1zM388 413h5v1h-5zM397 413h1v1h-1zM400 413h2v1h-2zM404 413h3v1h-3zM410 413h3v1h-3zM436 413h5v1h-5zM445 413h1v1h-1zM448 413h2v1h-2zM452 413h3v1h-3zM457 413h3v1h-3zM484 413h5v1h-5zM493 413h1v1h-1zM496 413h2v1h-2zM499 413h5v1h-5zM506 413h3v1h-3zM532 413h5v1h-5zM541 413h1v1h-1zM544 413h2v1h-2zM547 413h5v1h-5zM553 413h5v1h-5zM580 413h5v1h-5zM589 413h1v1h-1zM592 413h2v1h-2zM595 413h5v1h-5zM601 413h4v1h-4zM628 413h5v1h-5zM637 413h1v1h-1zM640 413h2v1h-2zM643 413h5v1h-5zM649 413h3v1h-3zM676 413h5v1h-5zM685 413h1v1h-1zM688 413h2v1h-2zM691 413h5v1h-5zM700 413h1v1h-1z"/>
</svg></body></html>
